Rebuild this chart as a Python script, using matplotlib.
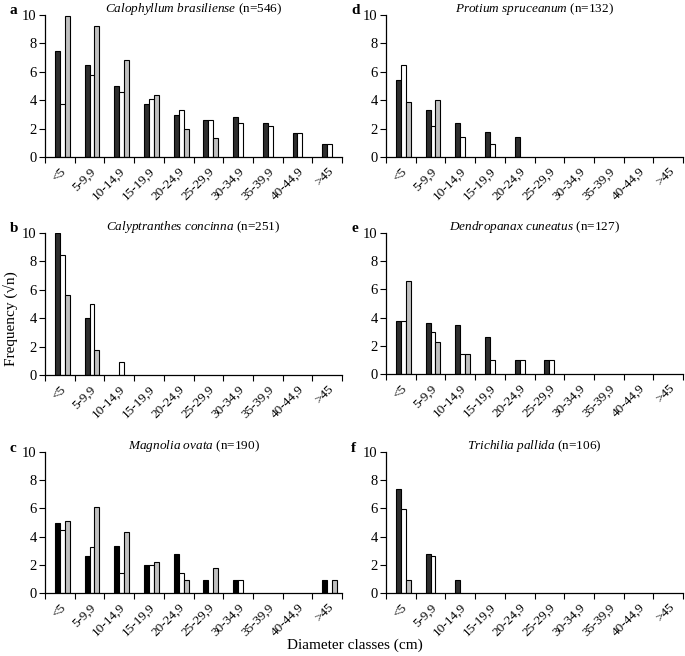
import numpy as np
import matplotlib
matplotlib.use("Agg")
import matplotlib.pyplot as plt
from matplotlib.transforms import ScaledTranslation

plt.rcParams['font.family'] = ['Liberation Serif', 'DejaVu Serif']
plt.rcParams['mathtext.fontset'] = 'custom'
plt.rcParams['mathtext.rm'] = 'Liberation Serif'
plt.rcParams['mathtext.it'] = 'Liberation Serif:italic'

# classes de diamètre
classes = ["<5", "5-9,9", "10-14,9", "15-19,9", "20-24,9", "25-29,9",
           "30-34,9", "35-39,9", "40-44,9", ">45"]

# panel a
calo_black = [7.45, 6.5, 5.0, 3.75, 2.95, 2.6, 2.8, 2.4, 1.7, 0.95]
calo_white = [3.75, 5.8, 4.55, 4.1, 3.3, 2.6, 2.4, 2.2, 1.7, 0.95]
calo_grey = [9.95, 9.25, 6.85, 4.4, 2.0, 1.35, 0, 0, 0, 0]
# panel b
caly_black = [10.0, 4.0, 0, 0, 0, 0, 0, 0, 0, 0]
caly_white = [8.45, 5.0, 0.95, 0, 0, 0, 0, 0, 0, 0]
caly_grey = [5.65, 1.75, 0, 0, 0, 0, 0, 0, 0, 0]
# panel c
magn_black = [4.95, 2.65, 3.3, 2.0, 2.8, 0.95, 0.95, 0, 0, 0.95]
magn_white = [4.45, 3.25, 1.4, 2.0, 1.4, 0, 0.95, 0, 0, 0]
magn_grey = [5.1, 6.1, 4.35, 2.2, 0.95, 1.75, 0, 0, 0, 0.95]
# panel d
prot_black = [5.45, 3.3, 2.4, 1.75, 1.4, 0, 0, 0, 0, 0]
prot_white = [6.45, 2.2, 1.4, 0.95, 0, 0, 0, 0, 0, 0]
prot_grey = [3.9, 4.0, 0, 0, 0, 0, 0, 0, 0, 0]
# panel e
dend_black = [3.75, 3.6, 3.45, 2.65, 1.0, 1.0, 0, 0, 0, 0]
dend_white = [3.75, 3.0, 1.4, 1.0, 1.0, 1.0, 0, 0, 0, 0]
dend_grey = [6.6, 2.25, 1.4, 0, 0, 0, 0, 0, 0, 0]
# panel f
tric_black = [7.35, 2.8, 0.95, 0, 0, 0, 0, 0, 0, 0]
tric_white = [5.95, 2.6, 0, 0, 0, 0, 0, 0, 0, 0]
tric_grey = [0.95, 0, 0, 0, 0, 0, 0, 0, 0, 0]

W, H = 685, 656


def rect(l, t, r, b):
    return [l / W, 1 - b / H, (r - l) / W, (b - t) / H]


panels = [
    ("a", "Calophyllum\\ brasiliense", 546, (45, 15, 342, 157), calo_black, calo_white, calo_grey, "#2e2e2e"),
    ("b", "Calyptranthes\\ concinna", 251, (45, 233, 342, 375), caly_black, caly_white, caly_grey, "#2e2e2e"),
    ("c", "Magnolia\\ ovata", 190, (45, 452, 342, 593), magn_black, magn_white, magn_grey, "#000000"),
    ("d", "Protium\\ spruceanum", 132, (386, 15, 683, 157), prot_black, prot_white, prot_grey, "#2e2e2e"),
    ("e", "Dendropanax\\ cuneatus", 127, (386, 233, 683, 374), dend_black, dend_white, dend_grey, "#2e2e2e"),
    ("f", "Trichilia\\ pallida", 106, (386, 452, 683, 593), tric_black, tric_white, tric_grey, "#2e2e2e"),
]

fig = plt.figure(figsize=(W / 100, H / 100), dpi=100)

x = np.arange(len(classes))
bw = 0.167
shift = ScaledTranslation(-4 / 100, -3 / 100, fig.dpi_scale_trans)
for letter, species, n, box, blk, wht, gry, dark in panels:
    ax = fig.add_axes(rect(*box))
    for vals, off, col in [(blk, 0.417, dark), (wht, 0.583, "white"), (gry, 0.75, "#c0c0c0")]:
        vals = np.array(vals)
        m = vals > 0
        ax.bar(x[m] + off, vals[m], width=bw, color=col, edgecolor="black", linewidth=0.8)
    ax.set_xlim(0, 10)
    ax.set_ylim(0, 10)
    ax.set_yticks([0, 2, 4, 6, 8, 10])
    ax.set_xticks(np.arange(11))
    ax.set_xticklabels([])
    ax.set_xticks(x + 0.5, minor=True)
    ax.set_xticklabels(classes, minor=True, rotation=45, ha="right", va="top",
                       rotation_mode="anchor", fontsize=9.5)
    for lab in ax.get_xticklabels(minor=True):
        lab.set_transform(lab.get_transform() + shift)
    ax.tick_params(axis="x", which="minor", length=0, pad=6)
    ax.tick_params(axis="x", which="major", length=4, width=0.8)
    ax.tick_params(axis="y", length=4, width=0.8, labelsize=10.5, pad=2)
    for s in ["top", "right"]:
        ax.spines[s].set_visible(False)
    for s in ["left", "bottom"]:
        ax.spines[s].set_linewidth(0.9)
    ax.text((box[0] + box[2]) / 2 / W, 1 - (box[1] - 3) / H,
            "$\\mathit{" + species + "}$ (n=" + str(n) + ")",
            transform=fig.transFigure, ha="center", va="baseline", fontsize=9.5)
    fig.text((box[0] - 35) / W, 1 - (box[1] - 4) / H, letter, fontweight="bold",
             fontsize=11, ha="left", va="center")

fig.text(10 / W, 1 - 319 / H, "Frequency (√n)", rotation=90, ha="center", va="center", fontsize=11)
fig.text(355 / W, 1 - 645 / H, "Diameter classes (cm)", ha="center", va="center", fontsize=11)

fig.savefig("out.png", dpi=100)
